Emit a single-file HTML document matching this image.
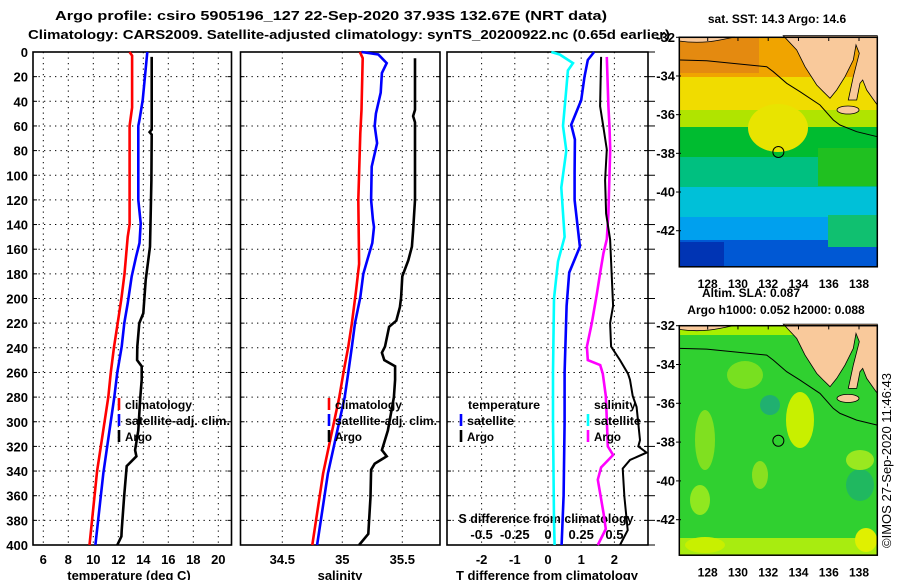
<!DOCTYPE html>
<html><head><meta charset="utf-8"><title>Argo profile</title>
<style>
html,body{margin:0;padding:0;background:#fff;}
svg{display:block;font-family:"Liberation Sans",Arial,sans-serif;}
.b{font-weight:bold;font-size:13px;fill:#000;}
.s{font-weight:bold;font-size:12px;fill:#000;}
</style></head>
<body>
<svg id="chart" width="900" height="580" viewBox="0 0 900 580" xmlns="http://www.w3.org/2000/svg">
<rect x="0" y="0" width="900" height="580" fill="#fff"/>
<text class="b" x="55" y="20" textLength="552" lengthAdjust="spacingAndGlyphs">Argo profile: csiro 5905196_127 22-Sep-2020 37.93S 132.67E (NRT data)</text>
<text class="b" x="28" y="39" textLength="642" lengthAdjust="spacingAndGlyphs">Climatology: CARS2009. Satellite-adjusted climatology: synTS_20200922.nc (0.65d earlier)</text>

<!-- top map -->
<g id="topmap">
<text class="s" x="777" y="23" text-anchor="middle">sat. SST: 14.3 Argo: 14.6</text>
<rect x="679" y="37" width="198" height="230" fill="#00b8e0"/>
<rect x="679" y="37" width="198" height="40" fill="#f0a400"/>
<rect x="679" y="37" width="80" height="36" fill="#e48a10"/>
<rect x="679" y="77" width="198" height="33" fill="#f0dc00"/>
<rect x="679" y="110" width="198" height="17" fill="#b0e400"/>
<rect x="679" y="127" width="198" height="30" fill="#00bc30"/>
<ellipse cx="778" cy="128" rx="30" ry="24" fill="#e8e400"/>
<rect x="679" y="157" width="198" height="30" fill="#00c080"/>
<rect x="818" y="148" width="59" height="38" fill="#20c020"/>
<rect x="679" y="187" width="198" height="30" fill="#00c0d8"/>
<rect x="679" y="217" width="198" height="23" fill="#00a0ee"/>
<rect x="679" y="240" width="198" height="27" fill="#0058d4"/>
<rect x="679" y="242" width="45" height="25" fill="#0034b4"/>
<rect x="828" y="215" width="49" height="32" fill="#10c070"/>
</g>
<!-- bottom map -->
<g id="botmap">
<text class="s" x="751" y="297" text-anchor="middle">Altim. SLA: 0.087</text>
<text class="s" x="776" y="314" text-anchor="middle">Argo h1000: 0.052 h2000: 0.088</text>
<rect x="679" y="325" width="198" height="231" fill="#30d030"/>
<rect x="679" y="325" width="198" height="10" fill="#a8f000"/>
<ellipse cx="800" cy="420" rx="14" ry="28" fill="#c8f000"/>
<ellipse cx="705" cy="440" rx="10" ry="30" fill="#80e020"/>
<ellipse cx="745" cy="375" rx="18" ry="14" fill="#78e020"/>
<ellipse cx="770" cy="405" rx="10" ry="10" fill="#20b070"/>
<ellipse cx="700" cy="500" rx="10" ry="15" fill="#90e820"/>
<ellipse cx="760" cy="475" rx="8" ry="14" fill="#88e020"/>
<ellipse cx="860" cy="485" rx="14" ry="16" fill="#20b860"/>
<ellipse cx="860" cy="460" rx="14" ry="10" fill="#9ae820"/>
<rect x="679" y="538" width="198" height="18" fill="#a8ec10"/>
<ellipse cx="866" cy="540" rx="11" ry="12" fill="#e0f000"/>
<ellipse cx="705" cy="545" rx="20" ry="8" fill="#c8f000"/>
</g>
<g id="decor"></g>
<g id="plots"></g>
<text x="891" y="548" font-size="13" transform="rotate(-90 891 548)" textLength="175" lengthAdjust="spacingAndGlyphs">©IMOS 27-Sep-2020 11:46:43</text>
</svg>
<script>
// ---------- data ----------
const depthTicks = [0,20,40,60,80,100,120,140,160,180,200,220,240,260,280,300,320,340,360,380,400];
const tempTicks = [6,8,10,12,14,16,18,20];
const salTicks = [34.5,35,35.5];
const salTickLabels = ["34.5","35","35.5"];
const tdiffTicks = [-2,-1,0,1,2];
const sdiffTicks = [-0.5,-0.25,0,0.25,0.5];
const sdiffTickLabels = ["-0.5","-0.25","0","0.25","0.5"];
const lonTicks = [128,130,132,134,136,138];
const latTicks = [-32,-34,-36,-38,-40,-42];
const argoLon = 132.67;
const argoLat = -37.93;

const climT_d = [0,3,45,60,140,150,180,200,220,240,260,280,340,400];
const climT_v = [12.9,13.1,13.1,12.9,12.9,12.75,12.5,12.25,11.95,11.65,11.4,11.2,10.3,9.7];
const satT_d = [0,39,55,60,93,120,139,155,166,182,204,220,239,260,280,342,400];
const satT_v = [14.32,13.95,13.7,13.6,13.6,13.6,13.79,13.7,13.42,13.07,12.75,12.48,12.27,11.92,11.68,10.8,10.17];
const argoT_d = [4,63,65,67,104,158,185,212,220,239,250,255,266,280,307,323,328,336,361,388,393,400];
const argoT_v = [14.67,14.67,14.5,14.67,14.65,14.54,14.19,14.0,13.68,13.52,13.5,13.87,13.87,13.76,13.6,13.34,13.45,12.67,12.46,12.27,12.25,11.92];

const climS_d = [0,5,47,66,120,172,194,220,239,260,280,342,400];
const climS_v = [35.147,35.17,35.16,35.15,35.133,35.14,35.114,35.08,35.05,35.01,34.975,34.84,34.75];
const satS_d = [0,2,9,17,33,50,60,74,93,120,136,142,155,166,180,199,220,239,260,280,342,400];
const satS_v = [35.16,35.3,35.37,35.33,35.32,35.28,35.27,35.29,35.245,35.24,35.255,35.264,35.25,35.217,35.175,35.15,35.106,35.08,35.05,35.02,34.88,34.79];
const argoS_d = [5,47,52,57,120,145,158,169,182,199,207,218,223,239,244,250,255,266,280,307,323,328,334,339,361,391,400];
const argoS_v = [35.606,35.606,35.59,35.606,35.606,35.59,35.58,35.55,35.5,35.49,35.48,35.45,35.39,35.356,35.33,35.35,35.44,35.44,35.43,35.38,35.33,35.37,35.27,35.24,35.235,35.217,35.14];

const satTdiff_d = [0,6.5,20,39,59,71,98,120,158,179,206,260,300,360,400];
const satTdiff_v = [1.39,1.2,1.1,1.0,0.7,0.81,0.8,0.8,0.96,0.64,0.56,0.5,0.5,0.47,0.41];
const argoTdiff_d = [4,44,61,79,104,131,152,206,220,239,250,261,266,279,288,315,320,325,331,338,361,388,400];
const argoTdiff_v = [1.6,1.57,1.67,1.77,1.72,1.75,1.87,1.96,1.87,1.9,2.17,2.41,2.47,2.55,2.67,2.77,2.72,2.97,2.47,2.25,2.3,2.4,2.17];
const satSdiff_d = [0,2,9,15,30,60,80,110,150,170,200,260,300,380,400];
const satSdiff_v = [0.025,0.088,0.188,0.15,0.138,0.113,0.138,0.1,0.125,0.075,0.045,0.038,0.038,0.045,0.05];
const argoSdiff_d = [4,44,61,79,131,152,163,179,196,220,239,250,254,261,279,298,320,327,337,347,374,387,400];
const argoSdiff_v = [0.443,0.455,0.463,0.468,0.455,0.443,0.418,0.393,0.368,0.33,0.293,0.3,0.393,0.413,0.435,0.443,0.45,0.49,0.4,0.375,0.418,0.435,0.375];

// ---------- scales ----------
const NS = "http://www.w3.org/2000/svg";
const yD = d => 52 + d * 1.2325;
const xT = t => 43.3 + (t - 6) * 12.5;
const xS = s => 342.3 + (s - 35) * 120;
const xTd = t => 548 + t * 33.2;
const xSd = s => 548 + s * 132.8;
const lonX = lo => 707.7 + (lo - 128) * 15.13;
const latYTop = la => 37.3 + (-32 - la) * 19.34;
const latYBot = la => 325.7 + (-32 - la) * 19.4;

function mk(tag, attrs, parent, text) {
  const e = document.createElementNS(NS, tag);
  for (const k in attrs) e.setAttribute(k, attrs[k]);
  if (text !== undefined) e.textContent = text;
  parent.appendChild(e);
  return e;
}
const decor = document.getElementById('decor');
const plots = document.getElementById('plots');

// ---------- map overlays ----------
const landPts = "783.3,35.7 796.7,50 805,66.7 816.7,85 823.3,91.7 830,98.3 836.7,90 845,76.7 853.3,60 856,45 859.3,53.3 853.3,76.7 848.3,100 856.7,100 860,83.3 862.7,80 866.7,90 877.3,105 877.3,35.7";
const shelfPts = "680,60 706.7,60.7 766.7,66.7 773.3,71.7 786.7,83.3 800,91.7 820,105 833.3,120 840,125 856.7,131.7 877.3,136.7";
[0, 288.4].forEach((off, i) => {
  const g = mk('g', {transform: 'translate(0,' + off + ')'}, decor);
  
  
  const land = mk('polygon', {points: landPts, fill: '#f9c99b', stroke: '#000', 'stroke-width': 0.8}, g);
  
  
  const ki = mk('ellipse', {cx: 848, cy: 110, rx: 11, ry: 4, fill: '#f9c99b', stroke: '#000', 'stroke-width': 0.8}, g);
  
  
  const topLand = mk('path', {d: 'M679,37 L679,41 Q700,44 720,40 L735,37 Z', fill: '#f9c99b', stroke: '#000', 'stroke-width': 0.8}, g);
  
  
  const shelf = mk('polyline', {points: shelfPts, fill: 'none', stroke: '#000', 'stroke-width': 1}, g);
  
  
  const fr = mk('rect', {x: 679.3, y: 37.3, width: 198, height: 229.5, fill: 'none', stroke: '#000', 'stroke-width': 1.5}, g);
  
  
  const ly = i === 0 ? latYTop : latYBot;
  const cy = ly(argoLat) - off;
  const c = mk('circle', {cx: lonX(argoLon), cy: cy, r: 5.5, fill: 'none', stroke: '#000', 'stroke-width': 1}, g);
  
  
  lonTicks.forEach(lo => {
    const t = mk('line', {x1: lonX(lo), x2: lonX(lo), y1: 37.3, y2: 41, stroke: '#000', 'stroke-width': 1}, g);
    
    
    const lab = mk('text', {x: lonX(lo), y: 288, 'text-anchor': 'middle', class: 's'}, g, String(lo));
    
    
  });
  latTicks.forEach(la => {
    const y = ly(la) - off;
    const t = mk('line', {x1: 676, x2: 681, y1: y, y2: y, stroke: '#000', 'stroke-width': 1}, g);
    
    
    const lab = mk('text', {x: 675, y: y + 4.5, 'text-anchor': 'end', class: 'b'}, g, String(la));
    
    
  });
});

// ---------- profile panels ----------
const panels = [
  {name: 'temperature-panel', x0: 33, x1: 231.5, xs: xT, ticks: tempTicks, labels: tempTicks.map(String), title: 'temperature (deg C)', tx: 129},
  {name: 'salinity-panel', x0: 240.5, x1: 440, xs: xS, ticks: salTicks, labels: salTickLabels, title: 'salinity', tx: 340},
  {name: 'difference-panel', x0: 447, x1: 648, xs: xTd, ticks: tdiffTicks, labels: tdiffTicks.map(String), title: 'T difference from climatology', tx: 547}
];
panels.forEach((p, pi) => {
  const g = mk('g', {}, plots);
  
  
  depthTicks.forEach(d => {
    if (d === 0 || d === 400) return;
    const l = mk('line', {x1: p.x0, x2: p.x1, y1: yD(d), y2: yD(d), stroke: '#000', 'stroke-width': 1, 'stroke-dasharray': '1.3 4.2'}, g);
    
    
    [[p.x0, p.x0 + 4], [p.x1 - 4, p.x1]].forEach(a => {
      const tk = mk('line', {x1: a[0], x2: a[1], y1: yD(d), y2: yD(d), stroke: '#000', 'stroke-width': 1}, g);
      
      
    });
  });
  p.ticks.forEach((t, i) => {
    const x = p.xs(t);
    const l = mk('line', {x1: x, x2: x, y1: 52, y2: 545, stroke: '#000', 'stroke-width': 1, 'stroke-dasharray': '1.3 4.2'}, g);
    
    
    const lab = mk('text', {x: x, y: 564, 'text-anchor': 'middle', class: 'b'}, g, p.labels[i]);
    
    
  });
  const tt = mk('text', {x: p.tx, y: 580, 'text-anchor': 'middle', class: 'b'}, g, p.title);
  
  
  const fr = mk('rect', {x: p.x0, y: 52, width: p.x1 - p.x0, height: 493, fill: 'none', stroke: '#000', 'stroke-width': 1.6}, g);
  
  
});
depthTicks.forEach(d => {
  const lab = mk('text', {x: 28, y: yD(d) + 5, 'text-anchor': 'end', class: 'b'}, plots, String(d));
  
  
  const tk = mk('line', {x1: 648, x2: 655, y1: yD(d), y2: yD(d), stroke: '#000', 'stroke-width': 1}, plots);
  
  
});

// secondary S-difference axis labels
const sdt = mk('text', {x: 546, y: 523, 'text-anchor': 'middle', class: 'b', textLength: 175, lengthAdjust: 'spacingAndGlyphs'}, plots, 'S difference from climatology');


sdiffTicks.forEach((s, i) => {
  const lab = mk('text', {x: xSd(s), y: 539, 'text-anchor': 'middle', class: 'b'}, plots, sdiffTickLabels[i]);
  
  
});

function series(ds, vs, xs, color, w, name) {
  const pts = ds.map((d, i) => xs(vs[i]).toFixed(1) + ',' + yD(d).toFixed(1)).join(' ');
  const pl = mk('polyline', {points: pts, fill: 'none', stroke: color, 'stroke-width': w, 'stroke-linejoin': 'miter'}, plots);
  
  
}
series(climT_d, climT_v, xT, '#ff0000', 2.6, 'climatology-temperature-line');
series(satT_d, satT_v, xT, '#0000ff', 2.6, 'satellite-temperature-line');
series(argoT_d, argoT_v, xT, '#000000', 2.6, 'argo-temperature-line');
series(climS_d, climS_v, xS, '#ff0000', 2.6, 'climatology-salinity-line');
series(satS_d, satS_v, xS, '#0000ff', 2.6, 'satellite-salinity-line');
series(argoS_d, argoS_v, xS, '#000000', 2.6, 'argo-salinity-line');
series(satSdiff_d, satSdiff_v, xSd, '#00ffff', 2.6, 'satellite-salinity-difference-line');
series(satTdiff_d, satTdiff_v, xTd, '#0000ff', 2.6, 'satellite-temperature-difference-line');
series(argoSdiff_d, argoSdiff_v, xSd, '#ff00ff', 2.6, 'argo-salinity-difference-line');
series(argoTdiff_d, argoTdiff_v, xTd, '#000000', 2, 'argo-temperature-difference-line');

// ---------- legends ----------
function legend(x, y, color, label, len) {
  if (color) {
    const m = mk('line', {x1: x, x2: x, y1: y - 11, y2: y + 1, stroke: color, 'stroke-width': 2.6}, plots);
    
    
  }
  const attrs = {x: color ? x + 6 : x, y: y, class: 's'};
  if (len) { attrs.textLength = len; attrs.lengthAdjust = 'spacingAndGlyphs'; }
  const t = mk('text', attrs, plots, label);
  
  
}
legend(119, 409, '#ff0000', 'climatology', 67);
legend(119, 425, '#0000ff', 'satellite-adj. clim.', 105);
legend(119, 441, '#000000', 'Argo', 27);
legend(329, 409, '#ff0000', 'climatology', 67);
legend(329, 425, '#0000ff', 'satellite-adj. clim.', 102);
legend(329, 441, '#000000', 'Argo', 27);
legend(468, 409, null, 'temperature', 72);
legend(461, 425, '#0000ff', 'satellite', 47);
legend(461, 441, '#000000', 'Argo', 27);
legend(594, 409, null, 'salinity', 42);
legend(588, 425, '#00ffff', 'satellite', 47);
legend(588, 441, '#ff00ff', 'Argo', 27);
</script>
</body></html>
